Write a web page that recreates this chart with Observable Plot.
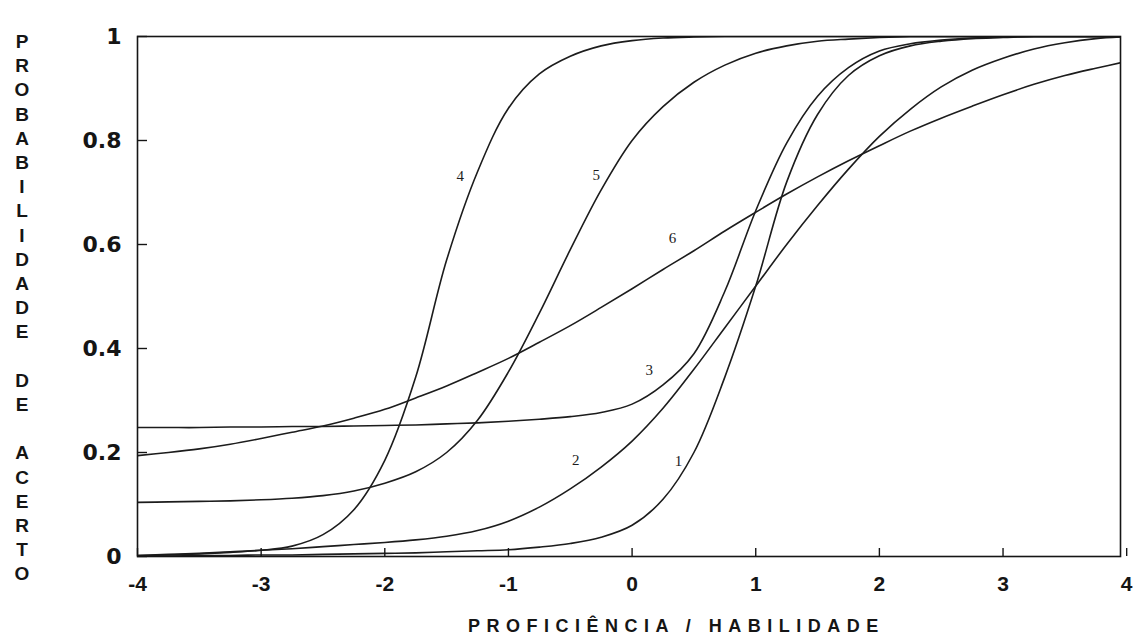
<!DOCTYPE html>
<html><head><meta charset="utf-8">
<script src="https://cdn.jsdelivr.net/npm/d3@7"></script>
<script src="https://cdn.jsdelivr.net/npm/@observablehq/plot@0.6"></script>
<style>
body{margin:0;background:#fff;}
#wrap{position:relative;width:1134px;height:636px;overflow:hidden;background:#fff;}
#ylab{position:absolute;left:9px;top:30px;width:26px;text-align:center;font:bold 19px "Liberation Sans",Arial,sans-serif;line-height:24.2px;white-space:pre;color:#151515;}
#xlab{position:absolute;left:468px;top:616px;font:bold 18px "Liberation Sans",Arial,sans-serif;letter-spacing:6.5px;white-space:nowrap;line-height:20px;color:#151515;}
</style></head><body><div id="wrap"></div>
<script>
// ability grid (theta) shared by all item curves
const theta = [-4,-3.75,-3.5,-3.25,-3,-2.75,-2.5,-2.25,-2,-1.75,-1.5,-1.25,-1,-0.75,-0.5,-0.25,0,0.25,0.5,0.75,1,1.25,1.5,1.75,2,2.25,2.5,2.75,3,3.25,3.5,3.75,4];
// probability of a correct answer
const item1 = [0.001,0.001,0.002,0.002,0.003,0.003,0.004,0.005,0.006,0.007,0.009,0.011,0.013,0.018,0.025,0.037,0.06,0.11,0.2,0.345,0.52,0.72,0.85,0.925,0.963,0.982,0.991,0.996,0.998,1,1,1,1];
const item2 = [0.002,0.004,0.006,0.009,0.012,0.015,0.019,0.023,0.027,0.032,0.039,0.05,0.068,0.095,0.13,0.172,0.222,0.285,0.36,0.44,0.52,0.6,0.675,0.745,0.808,0.86,0.903,0.935,0.958,0.976,0.988,0.996,1];
const item3 = [0.248,0.248,0.248,0.249,0.249,0.25,0.25,0.251,0.252,0.253,0.255,0.257,0.26,0.264,0.269,0.277,0.293,0.33,0.39,0.51,0.665,0.795,0.885,0.94,0.972,0.986,0.993,0.997,0.999,1,1,1,1];
const item4 = [0.002,0.003,0.005,0.008,0.012,0.02,0.042,0.09,0.185,0.345,0.57,0.74,0.862,0.928,0.962,0.982,0.992,0.997,0.999,1,1,1,1,1,1,1,1,1,1,1,1,1,1];
const item5 = [0.104,0.105,0.106,0.107,0.109,0.112,0.117,0.126,0.141,0.163,0.2,0.262,0.355,0.468,0.59,0.705,0.8,0.865,0.912,0.945,0.968,0.982,0.991,0.995,0.998,1,1,1,1,1,1,1,1];
const item6 = [0.194,0.2,0.207,0.216,0.227,0.239,0.251,0.266,0.283,0.305,0.328,0.354,0.381,0.412,0.444,0.479,0.515,0.552,0.588,0.626,0.662,0.697,0.73,0.761,0.79,0.818,0.843,0.866,0.888,0.908,0.925,0.939,0.952];
const itemNames = ["1","2","3","4","5","6"];
// where each curve's number is written (theta, probability)
const labelTheta = [0.375,-0.456,0.138,-1.39,-0.29,0.326];
const labelProb = [0.184,0.186,0.358,0.732,0.734,0.613];
const xTicks = [-4,-3,-2,-1,0,1,2,3,4];
const xTickLabels = ["-4","-3","-2","-1","0","1","2","3","4"];
const yTicks = [0,0.2,0.4,0.6,0.8,1];
const yTickLabels = ["0","0.2","0.4","0.6","0.8","1"];
const yTitleWords = ["PROBABILIDADE","DE","ACERTO"];
const xTitle = "PROFICIÊNCIA / HABILIDADE";

const items = [item1,item2,item3,item4,item5,item6];
const rows = itemNames.flatMap((name,k)=>theta.map((t,i)=>({theta:t,p:items[k][i],item:name})));
const labelRows = itemNames.map((name,i)=>({name,theta:labelTheta[i],p:labelProb[i]}));
const xLab = new Map(xTicks.map((d,i)=>[d,xTickLabels[i]]));
const yLab = new Map(yTicks.map((d,i)=>[d,yTickLabels[i]]));

const chart = Plot.plot({
  width:1134, height:636,
  marginLeft:137, marginRight:14, marginTop:36, marginBottom:80,
  x:{domain:[-4,3.95]},
  y:{domain:[0,1]},
  style:{background:"transparent",color:"#151515"},
  marks:[
    Plot.line(rows,{x:"theta",y:"p",z:"item",stroke:"#1c1c1c",strokeWidth:1.6,curve:"catmull-rom",clip:true}),
    Plot.text(labelRows,{x:"theta",y:"p",text:"name",fontSize:15,fontFamily:"Liberation Serif",fill:"#1c1c1c"}),
    Plot.frame({stroke:"#151515",strokeWidth:1.6}),
    Plot.axisX(xTicks,{tickSize:-8,tickPadding:28,tickFormat:d=>xLab.get(d),fontSize:21,fontFamily:"Liberation Sans",fontWeight:"bold",label:null,strokeWidth:1.4}),
    Plot.axisY(yTicks,{tickSize:-10,tickPadding:26,tickFormat:d=>yLab.get(d),fontSize:22,fontFamily:"DejaVu Sans",fontWeight:"bold",label:null,strokeWidth:1.4})
  ]
});
const wrap = document.getElementById("wrap");
wrap.appendChild(chart);
const yl = document.createElement("div");
yl.id = "ylab";
yl.textContent = yTitleWords.map(w=>w.split("").join("\n")).join("\n\n");
wrap.appendChild(yl);
const xl = document.createElement("div");
xl.id = "xlab";
xl.textContent = xTitle;
wrap.appendChild(xl);
</script></body></html>
